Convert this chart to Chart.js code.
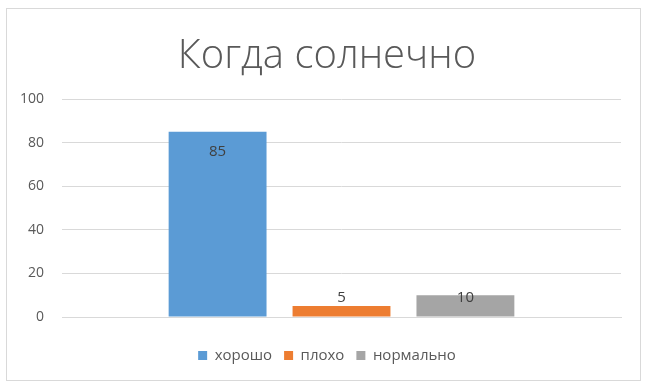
<!DOCTYPE html>
<html>
<head>
<meta charset="utf-8">
<script src="https://cdn.jsdelivr.net/npm/chart.js@4/dist/chart.umd.min.js"></script>
<style>
  html, body { margin: 0; padding: 0; background: #fff; }
  #wrap { position: relative; width: 650px; height: 391px; }
  #frame { position: absolute; left: 6px; top: 8px; width: 633px; height: 371px; border: 1px solid #d9d9d9; box-sizing: content-box; }
  canvas { position: absolute; left: 0; top: 0; }
</style>
</head>
<body>
<div id="wrap">
  <div id="frame"></div>
  <canvas id="c" width="650" height="391"></canvas>
</div>
<script>
const chartTitle = "Когда солнечно";
const categories = [""];
const seriesNames = ["хорошо", "плохо", "нормально"];
const seriesValues = [[85], [5], [10]];
const seriesColors = ["#5B9BD5", "#ED7D31", "#A5A5A5"];
const yTicks = [0, 20, 40, 60, 80, 100];

const labelPlugin = {
  id: 'barLabels',
  afterDatasetsDraw(chart) {
    const ctx = chart.ctx;
    ctx.save();
    ctx.font = '15px "Open Sans", sans-serif';
    ctx.fillStyle = '#404040';
    ctx.textAlign = 'center';
    ctx.textBaseline = 'middle';
    chart.data.datasets.forEach((ds, i) => {
      const meta = chart.getDatasetMeta(i);
      meta.data.forEach((bar, j) => {
        const y = Math.min(bar.y + 20, bar.base - 19);
        ctx.fillText(String(ds.data[j]), bar.x, y);
      });
    });
    ctx.restore();
  }
};

new Chart(document.getElementById('c'), {
  type: 'bar',
  data: {
    labels: categories,
    datasets: seriesNames.map((n, i) => ({
      label: n,
      data: seriesValues[i],
      backgroundColor: seriesColors[i],
      borderWidth: 0,
      categoryPercentage: 0.665,
      barPercentage: 0.79
    }))
  },
  options: {
    responsive: false,
    animation: false,
    layout: { padding: { left: 10, right: 6, top: 12, bottom: 18 } },
    plugins: {
      title: {
        display: true,
        text: chartTitle,
        color: '#595959',
        font: { family: '"Open Sans", sans-serif', size: 40, weight: '300' },
        padding: { top: 21, bottom: 18 }
      },
      legend: {
        position: 'bottom',
        labels: {
          boxWidth: 9, boxHeight: 9,
          color: '#595959',
          font: { family: '"Open Sans", sans-serif', size: 15 },
          padding: 12
        }
      },
      tooltip: { enabled: false }
    },
    scales: {
      x: {
        afterFit(s) { s.height = 19; },
        grid: { display: false, drawTicks: false },
        border: { display: true, color: '#d9d9d9' },
        ticks: { display: false }
      },
      y: {
        min: 0, max: 100,
        afterBuildTicks(scale) { scale.ticks = yTicks.map(v => ({ value: v })); },
        afterFit(s) { s.width = 52; },
        grid: { color: '#d9d9d9', drawTicks: false },
        border: { display: false },
        ticks: { color: '#595959', font: { family: '"Open Sans", sans-serif', size: 14 }, padding: 18 }
      },
      yRight: {
        position: 'right',
        display: true,
        afterFit(s) { s.width = 23; },
        grid: { display: false, drawTicks: false },
        border: { display: false },
        ticks: { display: false }
      }
    }
  },
  plugins: [labelPlugin]
});
</script>
</body>
</html>
